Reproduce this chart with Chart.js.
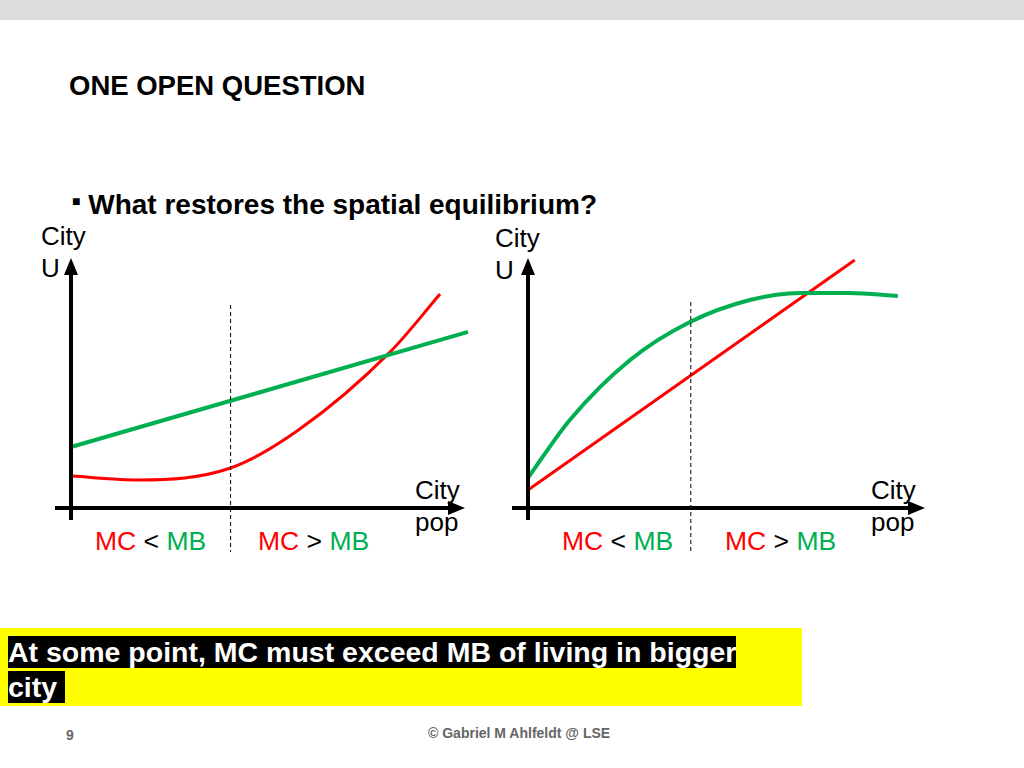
<!DOCTYPE html>
<html><head><meta charset="utf-8">
<script src="https://cdn.jsdelivr.net/npm/chart.js@4"></script>
<style>
body{margin:0;width:1024px;height:768px;position:relative;background:#fff;font-family:"Liberation Sans",Arial,sans-serif;overflow:hidden}
.a{position:absolute;white-space:nowrap}
canvas{position:absolute}
.r{color:#ff0000}.g{color:#00b050}
</style></head><body>
<div class="a" style="left:0;top:0;width:1024px;height:20px;background:#dcdcdc"></div>
<div class="a" style="left:69px;top:70px;font-size:27.5px;font-weight:bold">ONE OPEN QUESTION</div>
<div class="a" style="left:72px;top:189px;font-size:28px;font-weight:bold"><span style="font-size:14px;vertical-align:8px">&#9632;</span> What restores the spatial equilibrium?</div>
<div class="a" style="left:41px;top:220px;font-size:26px;line-height:32px">City<br>U</div>
<div class="a" style="left:495px;top:222px;font-size:26px;line-height:32px">City<br>U</div>
<div class="a" style="left:415px;top:474px;font-size:26px;line-height:32px">City<br>pop</div>
<div class="a" style="left:871px;top:474px;font-size:26px;line-height:32px">City<br>pop</div>
<div class="a" style="left:95px;top:526px;font-size:26.5px"><span class="r">MC</span> &lt; <span class="g">MB</span></div>
<div class="a" style="left:258px;top:526px;font-size:26.5px"><span class="r">MC</span> &gt; <span class="g">MB</span></div>
<div class="a" style="left:562px;top:526px;font-size:26.5px"><span class="r">MC</span> &lt; <span class="g">MB</span></div>
<div class="a" style="left:725px;top:526px;font-size:26.5px"><span class="r">MC</span> &gt; <span class="g">MB</span></div>
<div class="a" style="left:0;top:628px;width:802px;height:78px;background:#ffff00"></div>
<div class="a" style="left:8px;top:635px;font-size:28.5px;font-weight:bold;line-height:35px;color:#fff"><span style="background:#000">At some point, MC must exceed MB of living in bigger</span><br><span style="background:#000">city&nbsp;</span></div>
<div class="a" style="left:66px;top:727px;font-size:14px;font-weight:bold;color:#666">9</div>
<div class="a" style="left:428px;top:725px;font-size:14px;font-weight:bold;color:#666">© Gabriel M Ahlfeldt @ LSE</div>
<canvas id="c1" style="left:40px;top:240px;width:440px;height:320px" width="440" height="320"></canvas>
<canvas id="c2" style="left:497px;top:240px;width:443px;height:320px" width="443" height="320"></canvas>
<script>
const leftMB=[{x:0,y:24.1},{x:99.5,y:69.6}];
const leftMC=[{x:0,y:12.6},{x:17,y:11.1},{x:40,y:15.8},{x:57,y:30.8},{x:80,y:61.7},{x:92.5,y:84.6}];
const rightMC=[{x:0,y:7.1},{x:81.3,y:98}];
const rightMB=[{x:0,y:11.9},{x:10.4,y:34.8},{x:25.4,y:58.5},{x:40.3,y:73.5},{x:55.2,y:82.2},{x:67.7,y:85},{x:80,y:85},{x:92,y:83.8}];
const dividers=[40,40.5];
function make(id,red,green,div,dashTop,xTip){
 const axes={id:'ax',afterDatasetsDraw(ch){
  const c=ch.ctx,a=ch.chartArea;c.save();
  const dx=ch.scales.x.getPixelForValue(div);
  c.strokeStyle='#000';c.lineWidth=1;c.setLineDash([4,3]);
  c.beginPath();c.moveTo(dx,dashTop);c.lineTo(dx,312);c.stroke();c.setLineDash([]);
  c.lineWidth=4;c.fillStyle='#000';
  c.beginPath();c.moveTo(a.left,a.bottom+12);c.lineTo(a.left,a.top+18);c.stroke();
  c.beginPath();c.moveTo(a.left,a.top+3);c.lineTo(a.left-7,a.top+20);c.lineTo(a.left+7,a.top+20);c.fill();
  c.beginPath();c.moveTo(a.left-16,a.bottom);c.lineTo(xTip-14,a.bottom);c.stroke();
  c.beginPath();c.moveTo(xTip,a.bottom);c.lineTo(xTip-17,a.bottom-7);c.lineTo(xTip-17,a.bottom+7);c.fill();
  c.restore();}};
 new Chart(document.getElementById(id),{type:'line',
  data:{datasets:[
   {data:green,borderColor:'#00b050',borderWidth:4,pointRadius:0,tension:0.4,cubicInterpolationMode:'monotone'},
   {data:red,borderColor:'#ff0000',borderWidth:3,pointRadius:0,tension:0.4,cubicInterpolationMode:'monotone'}]},
  options:{responsive:false,animation:false,clip:false,layout:{padding:{left:31,right:10,top:15,bottom:52}},
   plugins:{legend:{display:false},tooltip:{enabled:false}},
   scales:{x:{type:'linear',min:0,max:100,display:false},y:{min:0,max:100,display:false}}},
  plugins:[axes]});
}
make('c1',leftMC,leftMB,dividers[0],65,425);
make('c2',rightMC,rightMB,dividers[1],62,428);
</script>
</body></html>
